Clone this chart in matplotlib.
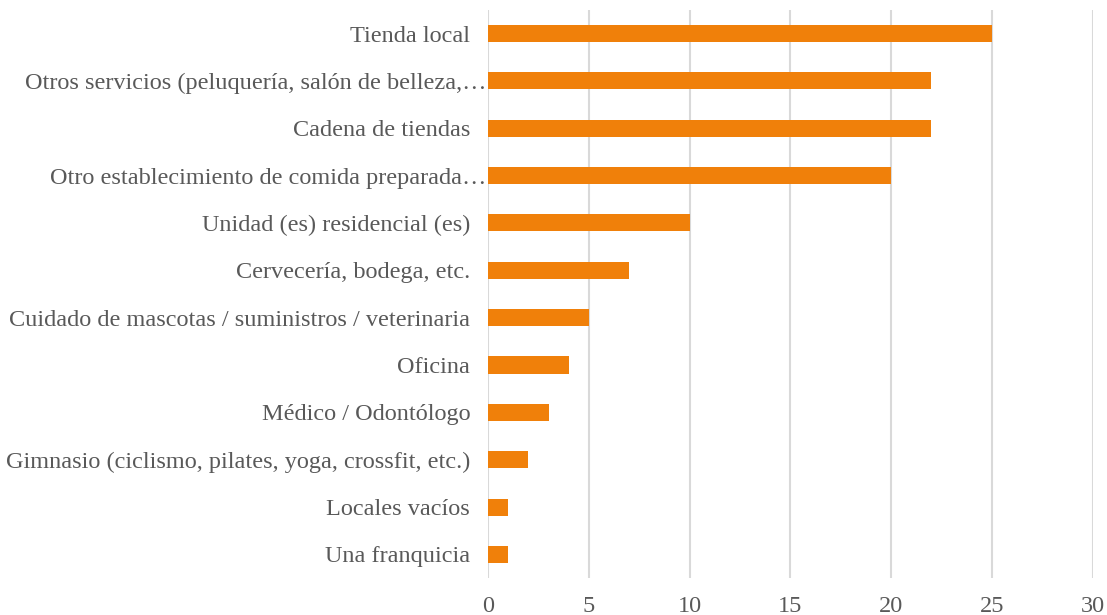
import matplotlib
matplotlib.use("Agg")
import matplotlib.pyplot as plt

matplotlib.rcParams.update({'font.size': 17.5, 'font.family': 'Liberation Serif'})

# Categories, top to bottom as in the chart
categories = [
    "Tienda local",
    "Otros servicios (peluquería, salón de belleza,…",
    "Cadena de tiendas",
    "Otro establecimiento de comida preparada…",
    "Unidad (es) residencial (es)",
    "Cervecería, bodega, etc.",
    "Cuidado de mascotas / suministros / veterinaria",
    "Oficina",
    "Médico / Odontólogo",
    "Gimnasio (ciclismo, pilates, yoga, crossfit, etc.)",
    "Locales vacíos",
    "Una franquicia",
]
values = [25, 22, 22, 20, 10, 7, 5, 4, 3, 2, 1, 1]
xticks = [0, 5, 10, 15, 20, 25, 30]

bar_color = '#F0800A'
text_color = '#595959'
grid_color = '#D9D9D9'

fig = plt.figure(figsize=(11.07, 6.15), dpi=100)
ax = fig.add_axes([0.441, 0.060, 0.546, 0.924])

y = list(range(len(categories)))
ax.barh(y, values, height=0.36, color=bar_color, zorder=3)

ax.set_ylim(len(categories) - 0.5, -0.5)
ax.set_xlim(0, 30)
ax.set_xticks(xticks)
ax.set_yticks(y)
ax.set_yticklabels(categories)

ax.grid(axis='x', color=grid_color, linewidth=1.5, zorder=0)
for s in ax.spines.values():
    s.set_visible(False)
ax.tick_params(axis='both', length=0, colors=text_color, labelsize=17.5)
ax.tick_params(axis='y', pad=13)
ax.tick_params(axis='x', pad=13)

# truncated labels run right up to the axis
for i, lab in enumerate(categories):
    if lab.endswith("…"):
        ax.yaxis.get_major_ticks()[i].set_pad(1)

fig.savefig("out.png", dpi=100)
